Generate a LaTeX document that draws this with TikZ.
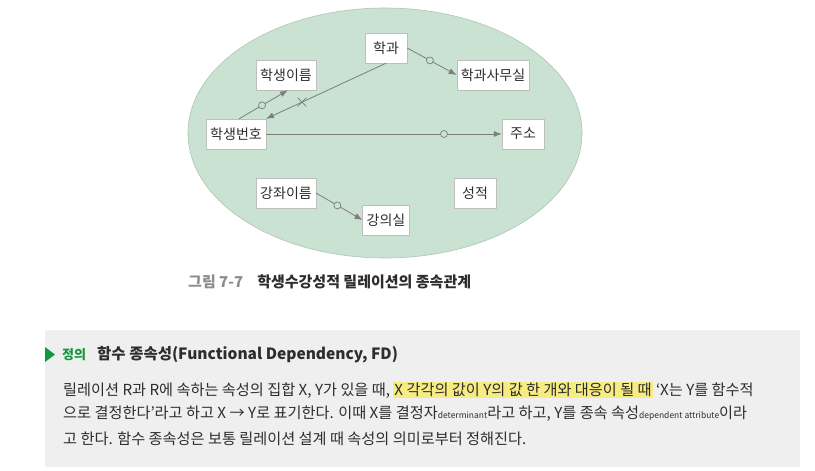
\documentclass[tikz,border=0pt]{standalone}
\usepackage{fontspec}
\setmainfont{Noto Sans CJK KR}
\usetikzlibrary{arrows.meta, positioning, shapes.misc}
\definecolor{ellgreen}{RGB}{201,226,209}
\definecolor{ellline}{RGB}{176,196,182}
\definecolor{boxline}{RGB}{190,190,190}
\definecolor{arrowgray}{RGB}{125,125,125}
\definecolor{textdark}{RGB}{45,45,45}
\definecolor{capgray}{RGB}{140,140,140}
\definecolor{panelgray}{RGB}{239,239,239}
\definecolor{defgreen}{RGB}{20,150,60}
\definecolor{hlyellow}{RGB}{246,236,130}

\begin{document}
\begin{tikzpicture}[x=1pt, y=-1pt,
  attr/.style={draw=boxline, fill=white, text=textdark,
    font=\fontsize{14}{16}\selectfont, minimum height=30pt,
    minimum width=42pt, inner xsep=4pt},
  dep/.style={draw=arrowgray, line width=0.8pt,
    -{Latex[length=8pt, width=6pt]}},
  ring/.style={circle, draw=arrowgray, fill=ellgreen, line width=0.7pt,
    inner sep=0pt, minimum size=7pt},
  nodep/.style={cross out, draw=arrowgray, line width=0.7pt,
    inner sep=0pt, minimum size=8pt},
  body/.style={anchor=west, inner sep=0pt, text=textdark,
    font=\fontsize{15.2}{17}\selectfont}]
\useasboundingbox (0,0) rectangle (815,471);

% relation
\draw[fill=ellgreen, draw=ellline, line width=0.6pt] (385,133) ellipse [x radius=197, y radius=125];

\node[attr] (dept)   at (386,48)  {학과};
\node[attr] (sname)  at (286,75)  {학생이름};
\node[attr] (office) at (493,75)  {학과사무실};
\node[attr] (sno)    at (236,134) {학생번호};
\node[attr] (addr)   at (523,134) {주소};
\node[attr] (lname)  at (286,193) {강좌이름};
\node[attr] (grade)  at (475,193) {성적};
\node[attr] (room)   at (386,220) {강의실};

\draw[dep] ([xshift=3pt]sno.north) -- node[ring, pos=.47] {} ([xshift=2pt]sname.south);
\draw[dep] (dept.south) -- node[nodep, pos=.70] {} (sno.north east);
\draw[dep] (dept.east) -- node[ring, pos=.46] {} (office.west);
\draw[dep] (sno.east) -- node[ring, pos=.755] {} (addr.west);
\draw[dep] (lname.east) -- node[ring, pos=.46] {} (room.west);

% caption
\node[anchor=west, inner sep=0pt, font=\bfseries\fontsize{15}{17}\selectfont, text=textdark]
  (cap) at (188,282) {{\color{capgray}그림 7-7}\hspace{14pt}학생수강성적 릴레이션의 종속관계};

% definition panel
\fill[panelgray] (45,330) rectangle (800,467);
\fill[defgreen] (45,347) -- (55,354.5) -- (45,362) -- cycle;
\node[anchor=west, inner sep=0pt, text=defgreen, font=\bfseries\fontsize{13}{15}\selectfont]
  (deftag) at (62,355) {정의};
\node[anchor=west, inner sep=0pt, text=textdark, font=\bfseries\fontsize{15.5}{17}\selectfont]
  (deftitle) at (97,355) {함수 종속성(Functional Dependency, FD)};

\node[body] (line1) at (63,390) {릴레이션 R과 R에 속하는 속성의 집합 X, Y가 있을 때, {\setlength\fboxsep{1pt}\colorbox{hlyellow}{X 각각의 값이 Y의 값 한 개와 대응이 될 때}} ‘X는 Y를 함수적};
\node[body] (line2) at (63,414) {으로 결정한다’라고 하고 X → Y로 표기한다. 이때 X를 결정자{\fontsize{8.5}{9}\selectfont determinant}라고 하고, Y를 종속 속성{\fontsize{8.5}{9}\selectfont dependent attribute}이라};
\node[body] (line3) at (63,439) {고 한다. 함수 종속성은 보통 릴레이션 설계 때 속성의 의미로부터 정해진다.};
\end{tikzpicture}
\end{document}
